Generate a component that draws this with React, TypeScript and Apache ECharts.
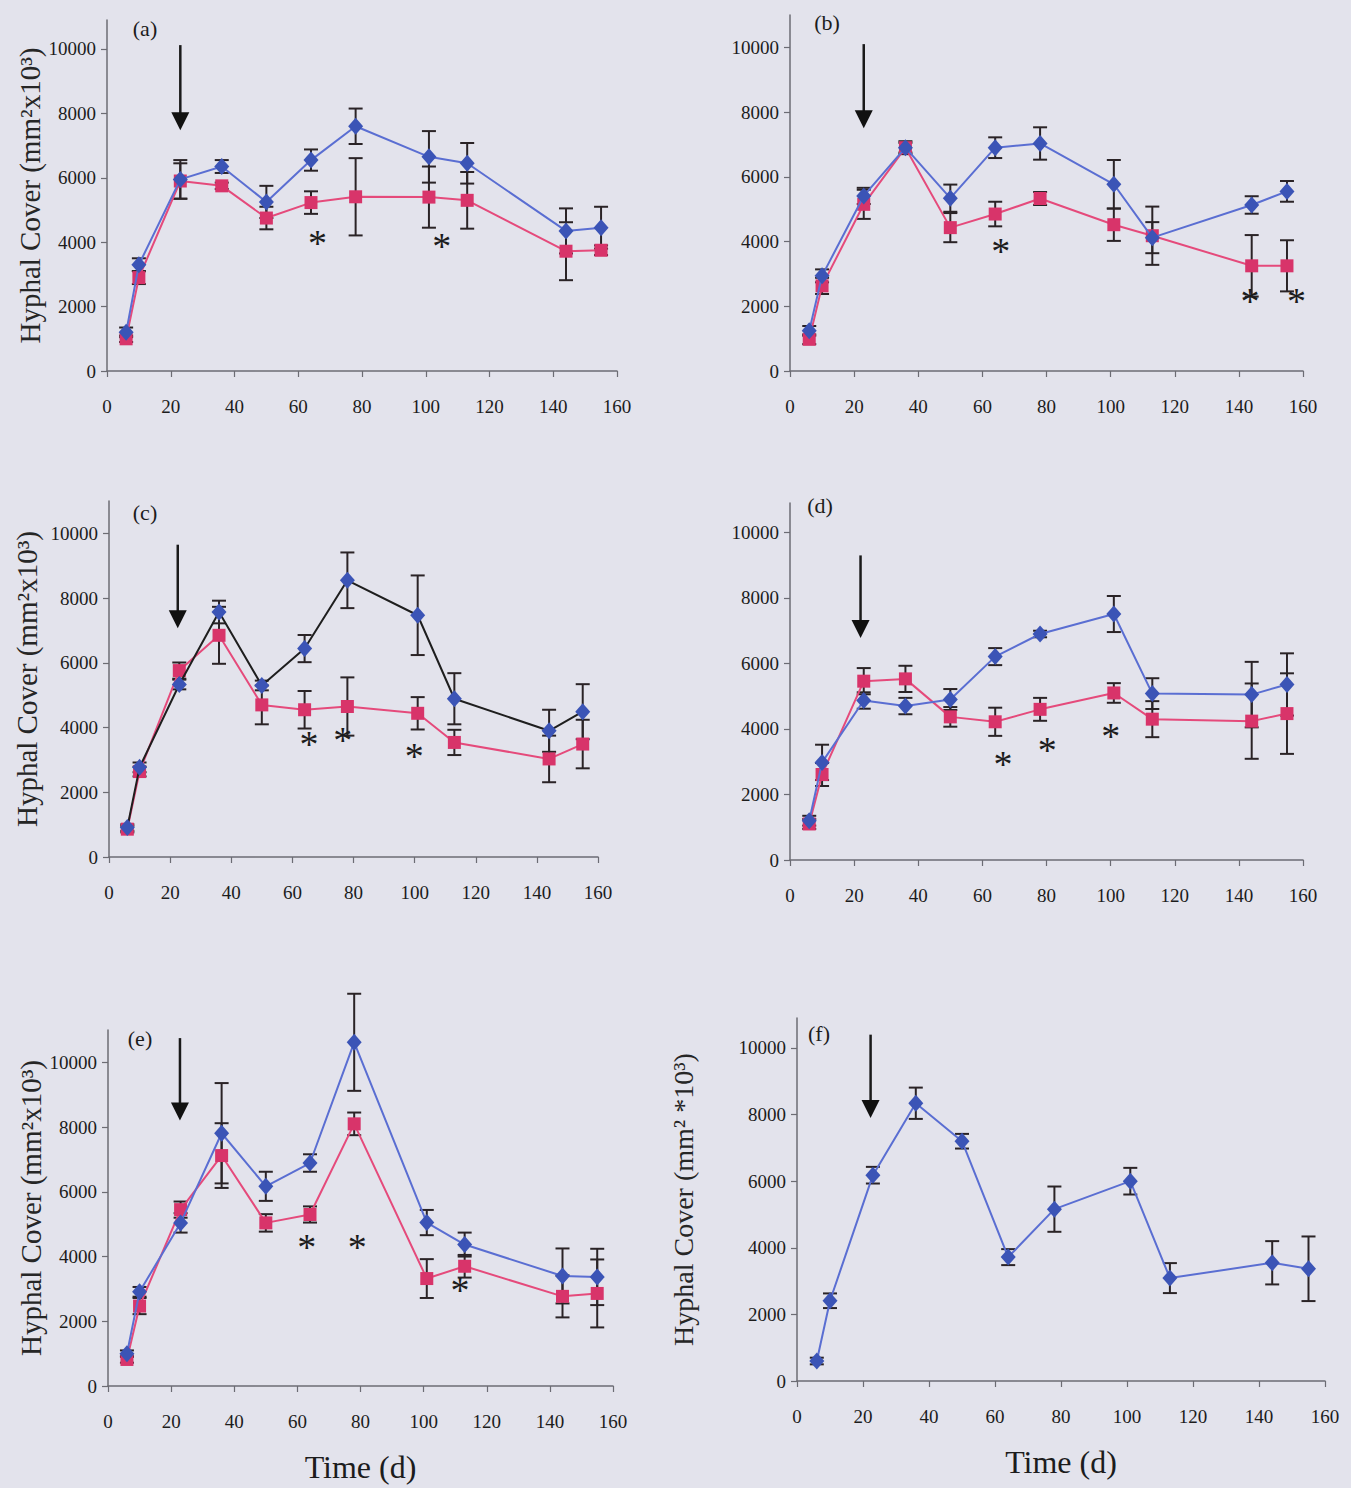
import React, { useEffect, useRef } from "react";
import * as echarts from "echarts";

// ---- data ----
const days = [6, 10, 23, 36, 50, 64, 78, 101, 113, 144, 155];
const yTicks = [0, 2000, 4000, 6000, 8000, 10000];

const aBlue = [1200, 3300, 5950, 6350, 5250, 6550, 7600, 6650, 6450, 4350, 4450];
const aBlueErr = [150, 200, 600, 200, 500, 330, 550, 800, 630, 700, 650];
const aRed = [1000, 2900, 5900, 5750, 4750, 5230, 5410, 5400, 5300, 3720, 3750];
const aRedErr = [100, 200, 550, 100, 350, 350, 1200, 950, 880, 900, 150];
const aStars = [[66, 3990], [105, 3890]];
const aArrow = [23, 10120, 7480];

const bBlue = [1240, 2940, 5410, 6900, 5340, 6900, 7030, 5770, 4120, 5130, 5550];
const bBlueErr = [150, 200, 250, 150, 420, 320, 500, 750, 480, 270, 320];
const bRed = [980, 2630, 5150, 6900, 4430, 4850, 5330, 4520, 4180, 3250, 3250];
const bRedErr = [150, 250, 450, 200, 450, 380, 200, 500, 900, 950, 790];
const bStars = [[65.7, 3710], [143.5, 2160], [158, 2160]];
const bArrow = [23, 10100, 7500];

const cBlue = [910, 2770, 5330, 7570, 5300, 6440, 8550, 7470, 4890, 3900, 4490];
const cBlueErr = [100, 150, 150, 350, 150, 420, 860, 1230, 790, 650, 850];
const cRed = [860, 2640, 5760, 6850, 4700, 4550, 4650, 4440, 3540, 3030, 3490];
const cRedErr = [100, 150, 250, 880, 600, 580, 900, 500, 390, 720, 750];
const cStars = [[65.4, 3490], [76.5, 3600], [99.9, 3130]];
const cArrow = [22.5, 9650, 7070];

const dBlue = [1200, 2980, 4870, 4700, 4900, 6210, 6900, 7510, 5080, 5050, 5360];
const dBlueErr = [150, 540, 250, 250, 320, 260, 100, 550, 470, 1000, 950];
const dRed = [1100, 2610, 5460, 5530, 4370, 4220, 4600, 5100, 4300, 4240, 4470];
const dRedErr = [150, 350, 400, 400, 300, 430, 350, 300, 550, 1150, 1230];
const dStars = [[66.4, 2930], [80.2, 3370], [100, 3800]];
const dArrow = [22, 9300, 6780];

const eBlue = [1000, 2910, 5040, 7810, 6170, 6890, 10620, 5050, 4370, 3400, 3370];
const eBlueErr = [100, 150, 300, 1550, 450, 270, 1500, 390, 370, 850, 870];
const eRed = [820, 2470, 5450, 7120, 5040, 5300, 8100, 3320, 3700, 2770, 2860];
const eRedErr = [100, 250, 250, 1000, 270, 250, 350, 600, 350, 650, 1050];
const eStars = [[63, 4280], [79, 4280], [111.5, 2960]];
const eArrow = [22.8, 10750, 8200];

const fBlue = [600, 2410, 6180, 8340, 7200, 3720, 5160, 6000, 3090, 3550, 3370];
const fBlueErr = [100, 220, 250, 470, 220, 240, 680, 400, 450, 650, 970];
const fArrow = [22.3, 10400, 7900];

const panelLabels = ["(a)", "(b)", "(c)", "(d)", "(e)", "(f)"];
const yTitle = "Hyphal Cover (mm²x10³)";
const yTitleF = "Hyphal Cover (mm² *10³)";
const xTitle = "Time (d)";

// ---- styles ----
const FONT = '"Liberation Serif", "Times New Roman", serif';
const BG = "#e3e3ec";
const AXIS = "#6c6c74";
const TEXT = "#1c1c1c";
const BLUE_LINE = "#5a6ed2";
const BLUE_MARK = "#3b54b6";
const RED_LINE = "#e54a7b";
const RED_MARK = "#d8346a";
const ERR = "#2a2326";

type Panel = {
  blue: number[];
  blueErr: number[];
  red?: number[];
  redErr?: number[];
  stars: number[][];
  arrow: number[];
  blueLineColor: string;
  yMax: number;
  grid: { left: number; top: number; width: number; height: number };
  yName?: string;
  yNameGap?: number;
  yNameSize?: number;
  xName?: string;
  labelPos: [number, number];
};

const panels: Panel[] = [
  { blue: aBlue, blueErr: aBlueErr, red: aRed, redErr: aRedErr, stars: aStars, arrow: aArrow, blueLineColor: BLUE_LINE, yMax: 10900,
    grid: { left: 107, top: 20, width: 510, height: 351 }, yName: yTitle, yNameGap: 53, yNameSize: 29, labelPos: [145, 28] },
  { blue: bBlue, blueErr: bBlueErr, red: bRed, redErr: bRedErr, stars: bStars, arrow: bArrow, blueLineColor: BLUE_LINE, yMax: 11000,
    grid: { left: 790, top: 15, width: 513, height: 356 }, labelPos: [827, 22] },
  { blue: cBlue, blueErr: cBlueErr, red: cRed, redErr: cRedErr, stars: cStars, arrow: cArrow, blueLineColor: "#1e1e1e", yMax: 11000,
    grid: { left: 109, top: 501, width: 489, height: 356 }, yName: yTitle, yNameGap: 68, yNameSize: 29, labelPos: [145, 512] },
  { blue: dBlue, blueErr: dBlueErr, red: dRed, redErr: dRedErr, stars: dStars, arrow: dArrow, blueLineColor: BLUE_LINE, yMax: 10900,
    grid: { left: 790, top: 503, width: 513, height: 357 }, labelPos: [820, 505] },
  { blue: eBlue, blueErr: eBlueErr, red: eRed, redErr: eRedErr, stars: eStars, arrow: eArrow, blueLineColor: BLUE_LINE, yMax: 11000,
    grid: { left: 108, top: 1030, width: 505, height: 356 }, yName: yTitle, yNameGap: 63, yNameSize: 29, xName: xTitle, labelPos: [140, 1038] },
  { blue: fBlue, blueErr: fBlueErr, stars: [], arrow: fArrow, blueLineColor: BLUE_LINE, yMax: 10900,
    grid: { left: 797, top: 1018, width: 528, height: 363 }, yName: yTitleF, yNameGap: 100, yNameSize: 28, xName: xTitle, labelPos: [819, 1033] },
];

function errRender(params: any, api: any) {
  const x = api.value(0);
  const lo = api.coord([x, api.value(1)]);
  const hi = api.coord([x, api.value(2)]);
  const cap = 7;
  const style = { stroke: ERR, lineWidth: 2 };
  return {
    type: "group",
    children: [
      { type: "line", shape: { x1: lo[0], y1: lo[1], x2: hi[0], y2: hi[1] }, style },
      { type: "line", shape: { x1: hi[0] - cap, y1: hi[1], x2: hi[0] + cap, y2: hi[1] }, style },
      { type: "line", shape: { x1: lo[0] - cap, y1: lo[1], x2: lo[0] + cap, y2: lo[1] }, style },
    ],
  };
}

function starRender(params: any, api: any) {
  const p = api.coord([api.value(0), api.value(1)]);
  return {
    type: "text",
    x: p[0],
    y: p[1],
    style: { text: "*", fontSize: 38, fontFamily: FONT, fill: TEXT, align: "center", verticalAlign: "middle" },
  };
}

function arrowRender(params: any, api: any) {
  const x = api.value(0);
  const top = api.coord([x, api.value(1)]);
  const tip = api.coord([x, api.value(2)]);
  const hh = 18;
  const hw = 9;
  return {
    type: "group",
    children: [
      { type: "line", shape: { x1: top[0], y1: top[1], x2: tip[0], y2: tip[1] - hh + 2 }, style: { stroke: "#1a1a1a", lineWidth: 2.5 } },
      { type: "polygon", shape: { points: [[tip[0] - hw, tip[1] - hh], [tip[0] + hw, tip[1] - hh], [tip[0], tip[1]]] }, style: { fill: "#111" } },
    ],
  };
}

function buildOption() {
  const grid: any[] = [];
  const xAxis: any[] = [];
  const yAxis: any[] = [];
  const series: any[] = [];
  panels.forEach((p, i) => {
    grid.push({ ...p.grid, containLabel: false });
    xAxis.push({
      type: "value",
      gridIndex: i,
      min: 0,
      max: 160,
      interval: 20,
      axisLine: { show: true, lineStyle: { color: AXIS, width: 1.5 } },
      axisTick: { show: true, length: 6, lineStyle: { color: AXIS, width: 1.2 } },
      axisLabel: { margin: 26, fontFamily: FONT, fontSize: 19, color: TEXT, formatter: (v: number) => String(v) },
      splitLine: { show: false },
      name: p.xName || "",
      nameLocation: "middle",
      nameGap: 65,
      nameTextStyle: { fontFamily: FONT, fontSize: 32, color: TEXT },
    });
    yAxis.push({
      type: "value",
      gridIndex: i,
      min: 0,
      max: p.yMax,
      interval: 2000,
      axisLine: { show: true, lineStyle: { color: AXIS, width: 1.5 } },
      axisTick: { show: true, length: 6, customValues: yTicks, lineStyle: { color: AXIS, width: 1.2 } },
      axisLabel: {
        margin: 11,
        fontFamily: FONT,
        fontSize: 19,
        color: TEXT,
        customValues: yTicks,
        formatter: (v: number) => String(v),
      },
      splitLine: { show: false },
      name: p.yName || "",
      nameLocation: "middle",
      nameGap: p.yNameGap || 60,
      nameTextStyle: { fontFamily: FONT, fontSize: p.yNameSize || 29, color: "#262626" },
    });
    // error bars
    series.push({
      type: "custom",
      xAxisIndex: i,
      yAxisIndex: i,
      renderItem: errRender,
      data: days.map((d, k) => [d, p.blue[k] - p.blueErr[k], p.blue[k] + p.blueErr[k]]),
      z: 3,
      silent: true,
    });
    if (p.red && p.redErr) {
      const r = p.red;
      const re = p.redErr;
      series.push({
        type: "custom",
        xAxisIndex: i,
        yAxisIndex: i,
        renderItem: errRender,
        data: days.map((d, k) => [d, r[k] - re[k], r[k] + re[k]]),
        z: 3,
        silent: true,
      });
      series.push({
        type: "line",
        xAxisIndex: i,
        yAxisIndex: i,
        data: days.map((d, k) => [d, r[k]]),
        symbol: "rect",
        symbolSize: 13,
        showAllSymbol: true,
        itemStyle: { color: RED_MARK },
        lineStyle: { color: RED_LINE, width: 2 },
        z: 4,
        emphasis: { disabled: true },
      });
    }
    series.push({
      type: "line",
      xAxisIndex: i,
      yAxisIndex: i,
      data: days.map((d, k) => [d, p.blue[k]]),
      symbol: "diamond",
      symbolSize: [15, 17],
      showAllSymbol: true,
      itemStyle: { color: BLUE_MARK },
      lineStyle: { color: p.blueLineColor, width: 2 },
      z: 5,
      emphasis: { disabled: true },
    });
    if (p.stars.length) {
      series.push({
        type: "custom",
        xAxisIndex: i,
        yAxisIndex: i,
        renderItem: starRender,
        data: p.stars,
        z: 6,
        silent: true,
      });
    }
    series.push({
      type: "custom",
      xAxisIndex: i,
      yAxisIndex: i,
      renderItem: arrowRender,
      data: [p.arrow],
      z: 6,
      silent: true,
    });
  });

  const graphic = panels.map((p, i) => ({
    type: "text",
    x: p.labelPos[0],
    y: p.labelPos[1],
    style: { text: panelLabels[i], fontFamily: FONT, fontSize: 22, fill: TEXT, align: "center", verticalAlign: "middle" },
  }));

  return {
    animation: false,
    backgroundColor: BG,
    grid,
    xAxis,
    yAxis,
    series,
    graphic,
  };
}

export default function App() {
  const ref = useRef<HTMLDivElement>(null);
  useEffect(() => {
    if (!ref.current) return;
    const chart = echarts.init(ref.current, undefined, { renderer: "svg" });
    chart.setOption(buildOption() as any);
    return () => chart.dispose();
  }, []);
  return (
    <div
      ref={ref}
      style={{ position: "fixed", left: 0, top: 0, width: 1351, height: 1488, background: BG }}
    />
  );
}
